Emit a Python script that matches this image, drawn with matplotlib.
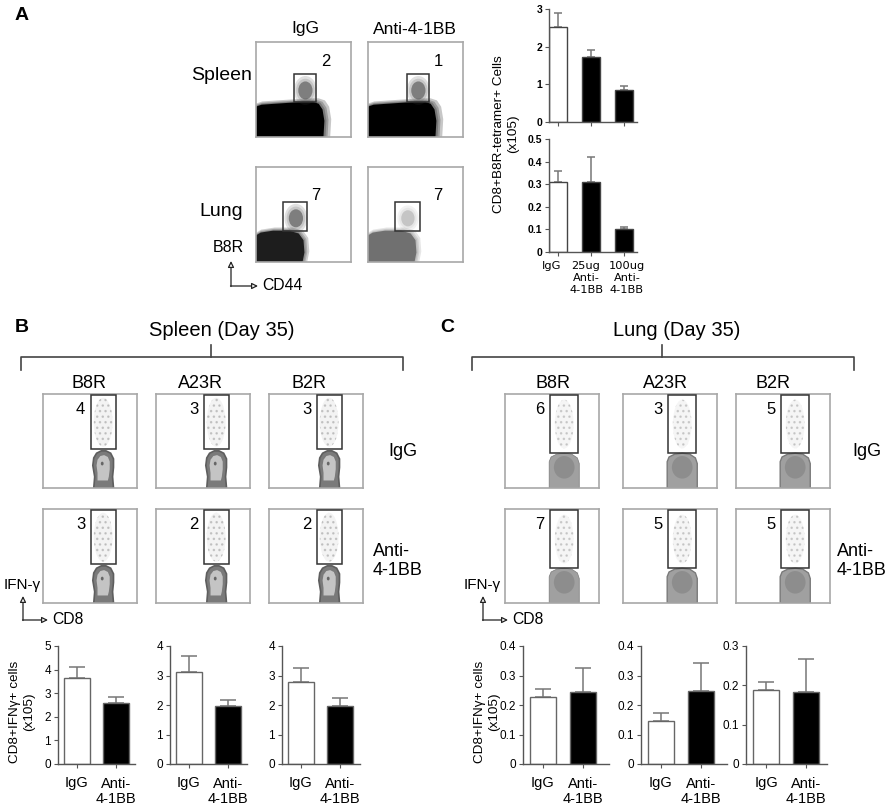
import matplotlib
matplotlib.use("Agg")
import matplotlib.pyplot as plt
from matplotlib.patches import Rectangle, Polygon, Ellipse
from matplotlib.ticker import FuncFormatter

plt.rcParams["font.family"] = ["Liberation Sans", "DejaVu Sans"]
plt.rcParams["hatch.linewidth"] = 1.0

W, H = 892, 807

# ---------------- données ----------------
# A : tétramère B8R (x10^5)
a_groups = ["IgG", "25ug\nAnti-\n4-1BB", "100ug\nAnti-\n4-1BB"]
a_spleen_mean = [2.53, 1.73, 0.84]
a_spleen_err = [0.37, 0.18, 0.12]
a_lung_mean = [0.31, 0.31, 0.10]
a_lung_err = [0.05, 0.11, 0.01]
a_spleen_ticks = [0, 1, 2, 3]
a_lung_ticks = [0, 0.1, 0.2, 0.3, 0.4, 0.5]

# pourcentages des portes (cytométrie)
a_cols = ["IgG", "Anti-4-1BB"]
a_spleen_pct = [2, 1]
a_lung_pct = [7, 7]

epitopes = ["B8R", "A23R", "B2R"]
treatments = ["IgG", "Anti-\n4-1BB"]
b_igg_pct = [4, 3, 3]
b_anti_pct = [3, 2, 2]
c_igg_pct = [6, 3, 5]
c_anti_pct = [7, 5, 5]

# B : rate, CD8+IFNg+ (x10^5)
b_b8r_mean = [3.64, 2.58]
b_b8r_err = [0.46, 0.25]
b_a23r_mean = [3.12, 1.97]
b_a23r_err = [0.54, 0.20]
b_b2r_mean = [2.78, 1.97]
b_b2r_err = [0.47, 0.27]
b_ticks = [[0, 1, 2, 3, 4, 5], [0, 1, 2, 3, 4], [0, 1, 2, 3, 4]]

# C : poumon
c_b8r_mean = [0.227, 0.244]
c_b8r_err = [0.027, 0.081]
c_a23r_mean = [0.146, 0.248]
c_a23r_err = [0.027, 0.094]
c_b2r_mean = [0.189, 0.184]
c_b2r_err = [0.020, 0.083]
c_ticks = [[0, 0.1, 0.2, 0.3, 0.4], [0, 0.1, 0.2, 0.3, 0.4], [0, 0.1, 0.2, 0.3]]

fig = plt.figure(figsize=(W / 100, H / 100), dpi=100)
fig.patch.set_facecolor("white")


def px_axes(l, t, r, b):
    """Axes placé en pixels (origine en haut à gauche)."""
    return fig.add_axes([l / W, 1 - b / H, (r - l) / W, (b - t) / H])


fmt_g = FuncFormatter(lambda v, _: f"{v:g}")


def bar_chart(ax, means, errs, ticks, labels, width, cap, bold=False,
              ec="#666666"):
    xs = list(range(len(means)))
    cols = ["white"] + ["black"] * (len(means) - 1)
    ax.errorbar(xs, means, yerr=[[0] * len(means), errs], fmt="none",
                ecolor="#777777", elinewidth=1.1, capsize=cap, capthick=1.1,
                zorder=1)
    ax.bar(xs, means, width=width, color=cols, edgecolor=ec, linewidth=1,
           zorder=2)
    ax.set_ylim(0, ticks[-1])
    ax.set_yticks(ticks)
    ax.yaxis.set_major_formatter(fmt_g)
    ax.set_xticks(xs)
    if labels is None:
        ax.set_xticklabels([])
    else:
        ax.set_xticklabels(labels, fontsize=10.5, va="top", linespacing=1.15)
    for s in ("top", "right"):
        ax.spines[s].set_visible(False)
    for s in ("left", "bottom"):
        ax.spines[s].set_color("#555555")
        ax.spines[s].set_linewidth(1)
    ax.tick_params(axis="both", direction="out", length=3, width=0.8,
                   color="#555555", pad=2)
    ax.tick_params(axis="x", pad=6)
    ax.tick_params(axis="y", labelsize=8.5 if not bold else 7.5)
    if bold:
        for t in ax.get_yticklabels():
            t.set_fontweight("bold")
    ax.patch.set_alpha(0)


def flow_box(l, t, size=94):
    ax = px_axes(l, t, l + size, t + size)
    ax.set_xlim(0, 100)
    ax.set_ylim(0, 100)
    ax.set_xticks([])
    ax.set_yticks([])
    for s in ax.spines.values():
        s.set_color("#a8a8a8")
        s.set_linewidth(1.2)
    return ax


def gate(ax, x0, x1, y0, y1):
    ax.add_patch(Rectangle((x0, y0), x1 - x0, y1 - y0, fill=False,
                           ec="#333333", lw=1.1, zorder=5))


def fuzzy(ax, pts, color, alpha, grow=(1.10, 1.06, 1.03)):
    """Nuage de points dense: polygone plein + bords flous."""
    for g in grow:
        ax.add_patch(Polygon([(x * g, y * g) for x, y in pts], closed=True,
                             fc=color, ec="none", alpha=alpha * 0.22))
    ax.add_patch(Polygon(pts, closed=True, fc=color, ec="none", alpha=alpha))


def cluster(ax, cx, cy, w, h, color, alpha):
    for k in (1.6, 1.3, 1.0):
        ax.add_patch(Ellipse((cx, cy), w * k, h * k, fc=color, ec="none",
                             alpha=alpha * (0.3 if k > 1 else 1.0)))


# ---------------- A : dot plots tétramère ----------------
spleen_cloud = [(0, 0), (0, 32), (6, 34), (20, 35), (35, 36), (50, 37),
                (60, 37), (66, 35), (70, 29), (72, 17), (71, 0)]
lung_cloud = [(0, 0), (0, 28), (5, 31), (18, 33), (35, 33), (45, 30),
              (50, 23), (51, 10), (49, 0)]

a_left = [256, 368]
for j in range(2):
    # rate
    ax = flow_box(a_left[j], 42, 95)
    fuzzy(ax, spleen_cloud, "black", 1.0)
    cluster(ax, 52 + j, 49, 15, 19, "#444444", 0.55)
    gate(ax, 40 + j, 63 + j, 37, 66)
    ax.text(74, 79, str(a_spleen_pct[j]), fontsize=12, ha="center",
            va="center")
    # poumon
    ax = flow_box(a_left[j], 167, 95)
    if j == 0:
        fuzzy(ax, lung_cloud, "#111111", 0.9)
        cluster(ax, 42, 46, 15, 19, "#444444", 0.55)
    else:
        fuzzy(ax, lung_cloud, "#333333", 0.55)
        cluster(ax, 42, 46, 14, 17, "#888888", 0.35)
    gate(ax, 28, 54 + j, 33, 63)
    ax.text(63 + 10 * j, 70, str(a_lung_pct[j]), fontsize=12, ha="center",
            va="center")

# A : barres
ax = px_axes(549, 9, 637, 122)
ax.set_xlim(-0.27, 2.39)
bar_chart(ax, a_spleen_mean, a_spleen_err, a_spleen_ticks, None, 0.52, 3,
          bold=True, ec="#444444")
ax = px_axes(549, 139, 637, 252)
ax.set_xlim(-0.27, 2.39)
bar_chart(ax, a_lung_mean, a_lung_err, a_lung_ticks, None, 0.52, 3,
          bold=True, ec="#444444")

# ---------------- B / C : dot plots IFN-g ----------------
td_outer = [(54, 0), (55, 12), (53, 24), (54, 32), (57, 37), (62, 39.5),
            (67, 39.5), (72, 37), (75, 31), (75, 22), (74, 12), (75, 0)]
td_inner = [(58, 8), (58, 16), (57, 24), (58, 30), (61, 34), (65, 35),
            (69, 33), (71, 28), (71, 20), (70, 12), (69, 8)]
lb_outer = [(47, 0), (47, 28), (49, 33), (55, 36), (63, 37), (71, 36),
            (77, 32), (79, 26), (79, 0)]

b_left = [43, 156, 269]
c_left = [505, 623, 736]
row_top = [394, 509]

for i, top in enumerate(row_top):
    for j in range(3):
        # rate
        ax = flow_box(b_left[j], top)
        ax.add_patch(Ellipse((64, 70), 20, 52, fc="#eeeeee", ec="#b4b4b4",
                             lw=0, hatch="...", alpha=0.7))
        ax.add_patch(Polygon(td_outer, closed=True, fc="#7a7a7a",
                             ec="#5e5e5e", lw=1.2))
        ax.add_patch(Polygon(td_inner, closed=True, fc="#c4c4c4",
                             ec="none"))
        ax.add_patch(Ellipse((63, 26), 3, 4, fc="#666666", ec="none"))
        gate(ax, 51, 78, 41, 98.5)
        pct = b_igg_pct[j] if i == 0 else b_anti_pct[j]
        ax.text(40, 83, str(pct), fontsize=12, ha="center", va="center")
        # poumon
        ax = flow_box(c_left[j], top)
        ax.add_patch(Ellipse((63, 68), 20, 52, fc="#f2f2f2", ec="#bcbcbc",
                             lw=0, hatch="...", alpha=0.7))
        ax.add_patch(Polygon(lb_outer, closed=True, fc="#a0a0a0",
                             ec="#7a7a7a", lw=1.0 if j else 0.5))
        ax.add_patch(Ellipse((63, 22), 22, 24, fc="#777777", ec="none",
                             alpha=0.45))
        gate(ax, 48, 78, 37, 98.5)
        pct = c_igg_pct[j] if i == 0 else c_anti_pct[j]
        ax.text(37, 83, str(pct), fontsize=12, ha="center", va="center")

# B / C : barres
b_axes_px = [(58, 135), (170, 247), (282, 360)]
c_axes_px = [(523, 609), (641, 727), (746, 827)]
b_means = [b_b8r_mean, b_a23r_mean, b_b2r_mean]
b_errs = [b_b8r_err, b_a23r_err, b_b2r_err]
c_means = [c_b8r_mean, c_a23r_mean, c_b2r_mean]
c_errs = [c_b8r_err, c_a23r_err, c_b2r_err]
for k in range(3):
    l, r = b_axes_px[k]
    ax = px_axes(l, 646, r, 764)
    ax.set_xlim(-0.47, (r - l) / 39.5 - 0.47)
    bar_chart(ax, b_means[k], b_errs[k], b_ticks[k], treatments, 0.66, 5.5)
    l, r = c_axes_px[k]
    ax = px_axes(l, 646, r, 764)
    ax.set_xlim(-0.5, (r - l) / 40 - 0.5)
    bar_chart(ax, c_means[k], c_errs[k], c_ticks[k], treatments, 0.66, 5.5)

# ---------------- habillage (coordonnées pixels) ----------------
ov = fig.add_axes([0, 0, 1, 1])
ov.set_xlim(0, W)
ov.set_ylim(H, 0)
ov.axis("off")

for letter, x, y in (("A", 22, 15), ("B", 22, 327), ("C", 447, 327)):
    ov.text(x, y, letter, fontsize=14, fontweight="bold", ha="center",
            va="center")

# A
ov.text(305, 29, a_cols[0], fontsize=12.5, ha="center", va="center")
ov.text(415, 29, a_cols[1], fontsize=12.5, ha="center", va="center")
ov.text(252, 75, "Spleen", fontsize=14, ha="right", va="center")
ov.text(221, 212, "Lung", fontsize=14, ha="center", va="center")
ov.text(228, 248, "B8R", fontsize=11.5, ha="center", va="center")
ov.text(262, 285, "CD44", fontsize=11.3, ha="left", va="center")
ov.text(506, 134, "CD8+B8R-tetramer+ Cells\n(x105)", fontsize=9.7,
        rotation=90, ha="center", va="center", linespacing=1.15)

# étiquettes des barres A (police type Verdana)
for x, lab in zip((552, 586, 627), a_groups):
    ov.text(x, 261, lab, family="DejaVu Sans", fontsize=8.2, ha="center",
            va="top", linespacing=1.25)

arrow_kw = dict(arrowstyle="-|>", fc="white", ec="#222222", lw=0.9,
                shrinkA=0, shrinkB=0, mutation_scale=9)


def axis_arrows(x, y, up, right):
    ov.annotate("", xy=(x, up), xytext=(x, y + 0.5), arrowprops=arrow_kw)
    ov.annotate("", xy=(right, y), xytext=(x - 0.5, y), arrowprops=arrow_kw)


axis_arrows(231, 286, 261, 258)
axis_arrows(23, 620, 596, 48)
axis_arrows(483, 620, 596, 508)


def bracket(x0, x1, xm, title, tx):
    ov.plot([x0, x0, x1, x1], [370, 357, 357, 370], color="#444444", lw=1.2)
    ov.plot([xm, xm], [345, 357], color="#444444", lw=1.2)
    ov.text(tx, 330, title, fontsize=14.5, ha="center", va="center")


bracket(21, 403, 211, "Spleen (Day 35)", 222)
bracket(472, 854, 662, "Lung (Day 35)", 677)

for j, name in enumerate(epitopes):
    ov.text([89, 200, 309][j], 383, name, fontsize=13, ha="center",
            va="center")
    ov.text([553, 665, 773][j], 383, name, fontsize=13, ha="center",
            va="center")

ov.text(403, 452, "IgG", fontsize=13, ha="center", va="center")
ov.text(373, 561, "Anti-\n4-1BB", fontsize=13, ha="left", va="center",
        linespacing=1.2)
ov.text(867, 452, "IgG", fontsize=13, ha="center", va="center")
ov.text(837, 561, "Anti-\n4-1BB", fontsize=13, ha="left", va="center",
        linespacing=1.2)

for x in (4, 464):
    ov.text(x, 585, "IFN-γ", fontsize=11, ha="left", va="center")
ov.text(52, 619, "CD8", fontsize=11.3, ha="left", va="center")
ov.text(512, 619, "CD8", fontsize=11.3, ha="left", va="center")

for x in (22, 487):
    ov.text(x, 712, "CD8+IFNγ+ cells\n(x105)", fontsize=9.7, rotation=90,
            ha="center", va="center", linespacing=1.15)

fig.savefig("out.png", dpi=100, facecolor="white")
